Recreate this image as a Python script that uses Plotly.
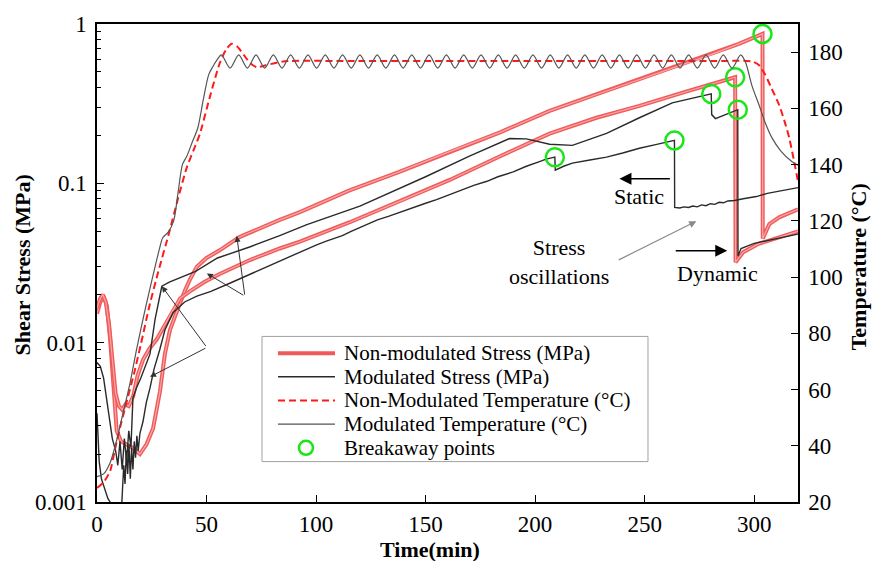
import math
import plotly.graph_objects as go

FONT = "Liberation Serif, Times New Roman, serif"

# ---------------- data ----------------
# Non-modulated temperature (°C) vs time (min)
nm_temp_t = [0, 3, 6, 8, 11, 14, 17, 20, 24, 28, 33, 37, 41, 44, 47, 51.5, 56, 59, 61.5, 64, 67, 70, 73,
             77, 85, 120, 200, 280, 299, 302, 305, 308, 311.5, 314, 316, 318, 320]
nm_temp = [25, 27, 31, 38, 48, 57, 66, 76, 90, 102, 116, 128, 139, 145, 151, 164, 176, 181, 183, 182, 179, 176, 174.6,
           175.3, 176.7, 176.8, 176.8, 176.8, 176.7, 175.5, 172, 167, 161, 155, 149.5, 142, 134]

# Modulated temperature (°C) vs time (min)
mod_temp_t = [0, 3, 6, 9, 12, 15, 18, 21, 23, 26, 28.5, 30, 32.5, 35, 37, 39, 41, 43.5, 46, 48.5, 51, 53, 55,
              56.8, 60.75, 64.7, 68.65, 72.6, 76.55, 80.5, 84.45, 88.4, 92.35, 96.3, 100.25, 104.2, 108.15,
              112.1, 116.05, 120.0, 123.95, 127.9, 131.85, 135.8, 139.75, 143.7, 147.65, 151.6, 155.55,
              159.5, 163.45, 167.4, 171.35, 175.3, 179.25, 183.2, 187.15, 191.1, 195.05, 199.0, 202.95,
              206.9, 210.85, 214.8, 218.75, 222.7, 226.65, 230.6, 234.55, 238.5, 242.45, 246.4, 250.35,
              254.3, 258.25, 262.2, 266.15, 270.1, 274.05, 278.0, 281.95, 285.9, 289.85, 293.8,
              296, 299, 302.3, 305, 308.2, 312, 317.3, 320]
mod_temp = [29, 30, 34, 42, 52, 62, 74, 85, 92, 102, 110, 114, 116, 120, 130, 140, 143, 148, 153, 163, 172, 175, 177.5,
            179.0, 174.3, 179.0, 174.3, 179.0, 174.3, 179.0, 174.3, 179.0, 174.3, 179.0, 174.3, 179.0, 174.3,
            179.0, 174.3, 179.0, 174.3, 179.0, 174.3, 179.0, 174.3, 179.0, 174.3, 179.0, 174.3,
            179.0, 174.3, 179.0, 174.3, 179.0, 174.3, 179.0, 174.3, 179.0, 174.3, 179.0, 174.3,
            179.0, 174.3, 179.0, 174.3, 179.0, 174.3, 179.0, 174.3, 179.0, 174.3, 179.0, 174.3,
            179.0, 174.3, 179.0, 174.3, 179.0, 174.3, 179.0, 174.3, 179.0, 174.3, 179.0,
            176.5, 168, 161, 155, 149.4, 145, 141, 139.8]

# Non-modulated stress, test A (MPa)
nm_stress_a_t = [0, 1.5, 3, 4.5, 6, 7.5, 9, 11, 13.5, 16, 19.6, 22.6, 25.6, 28.7, 31, 33.3, 35.5, 37.8, 40, 42.5,
                 45.6, 50, 56, 65, 75, 83.4, 92.6, 115, 138, 161, 184, 206.6, 232.6, 262.6, 280, 293, 303.8,
                 303.9, 306.9, 311.4, 320]
nm_stress_a = [0.0152, 0.018, 0.0195, 0.017, 0.0105, 0.0055, 0.0028, 0.0024, 0.0023, 0.0022, 0.0020, 0.0023, 0.0029,
               0.0049, 0.0085, 0.012, 0.0145, 0.0177, 0.021, 0.025, 0.030, 0.034, 0.038, 0.046, 0.053, 0.059, 0.066,
               0.090, 0.118, 0.158, 0.209, 0.285, 0.38, 0.53, 0.64, 0.75, 0.867, 0.045, 0.0555, 0.0612, 0.0687]

# Non-modulated stress, test B (MPa)
nm_stress_b_t = [0, 1.5, 2.7, 4, 5.5, 7, 8.5, 10, 11.5, 13, 14.5, 16.5, 18.5, 21, 24, 27.3, 31, 34.7, 38, 42.4, 49,
                 56, 69.8, 83.4, 92.6, 115.4, 140, 161, 185, 206.6, 228, 247.6, 270, 291.3, 291.5, 295, 302, 320]
nm_stress_b = [0.0165, 0.019, 0.020, 0.018, 0.013, 0.0075, 0.0048, 0.0040, 0.0038, 0.0041, 0.0040, 0.0046, 0.0062,
               0.0078, 0.0092, 0.0105, 0.013, 0.016, 0.019, 0.021, 0.024, 0.027, 0.033, 0.039, 0.043, 0.057, 0.079,
               0.105, 0.150, 0.205, 0.258, 0.306, 0.38, 0.463, 0.032, 0.037, 0.0417, 0.050]

# Modulated stress, test C (MPa)
m_stress_c_t = [0, 1.5, 3, 5, 7, 8.5, 9.5, 10.5, 11.5, 12.5, 13.5, 14.5, 15.5, 16.4, 18, 20, 22, 24.2, 26.5, 29.6,
                33, 38, 45, 55, 70, 83.4, 95.8, 120, 150, 170, 188.3, 196, 206.6, 217, 232.6, 247.6, 262.6, 280.4,
                280.6, 282.3, 292.5, 292.6, 294, 300, 310, 320]
m_stress_c = [0.0075, 0.0071, 0.0060, 0.0038, 0.0025, 0.0021, 0.0017, 0.0024, 0.0016, 0.0025, 0.0018, 0.0028, 0.0022,
              0.0045, 0.0052, 0.0060, 0.0070, 0.0085, 0.014, 0.0226, 0.024, 0.0255, 0.028, 0.034, 0.040, 0.047,
              0.055, 0.072, 0.110, 0.148, 0.191, 0.19, 0.176, 0.173, 0.206, 0.258, 0.32, 0.364, 0.27, 0.255, 0.29,
              0.035, 0.039, 0.042, 0.045, 0.048]

# Modulated stress, test D (MPa)
m_stress_d_t = [0, 1, 2, 3.5, 5, 6, 7, 11, 11.6, 12.2, 12.8, 13.4, 14, 14.6, 15.2, 15.8, 16.4, 17, 17.6, 18.2, 18.8,
                19.6, 21, 22.5, 24.2, 26, 28.7, 31, 34.7, 40, 45.6, 52, 60.6, 70, 83.4, 92.6, 100, 105, 108, 112, 116,
                120, 123, 128, 133, 137, 140, 145, 150, 155, 161, 166, 172, 178, 183, 190, 196, 202, 205, 209,
                209.2, 213, 217, 225, 232.6, 240, 247.6, 255, 263.6, 263.7, 266, 268, 270, 272, 274, 276, 278, 280,
                282, 284, 286, 288, 291, 295, 301, 306, 312, 320]
m_stress_d = [0.0036, 0.0018, 0.0014, 0.0012, 0.00105, 0.001, 0.0008, 0.0008, 0.0013, 0.0017, 0.0013, 0.0021, 0.0015,
              0.0023, 0.0014, 0.0022, 0.0016, 0.0024, 0.0019, 0.0026, 0.0021, 0.0027, 0.0032, 0.0042, 0.0052, 0.0068,
              0.0091, 0.012, 0.0154, 0.018, 0.0196, 0.021, 0.0236, 0.027, 0.0327, 0.037, 0.041, 0.0435, 0.045,
              0.047, 0.050, 0.053, 0.0554, 0.059, 0.062, 0.065, 0.067, 0.071, 0.075, 0.079, 0.085, 0.090, 0.097,
              0.103, 0.110, 0.118, 0.128, 0.137, 0.142, 0.146, 0.121, 0.128, 0.134, 0.140, 0.146, 0.155, 0.166,
              0.175, 0.186, 0.0706, 0.0700, 0.0712, 0.0705, 0.0720, 0.0712, 0.0732, 0.0724, 0.0745, 0.0738,
              0.0760, 0.0755, 0.0775, 0.0780, 0.080, 0.0826, 0.0865, 0.090, 0.094]

# Breakaway points
break_t = [209, 263.6, 280.4, 291.3, 292.5, 303.8]
break_stress = [0.146, 0.186, 0.364, 0.463, 0.290, 0.867]

x_ticks = [0, 50, 100, 150, 200, 250, 300]
y_ticks = [0.001, 0.01, 0.1, 1]
y_ticktext = ["0.001", "0.01", "0.1", "1"]
y2_ticks = [20, 40, 60, 80, 100, 120, 140, 160, 180]

legend_labels = ["Non-modulated Stress (MPa)", "Modulated Stress (MPa)", "Non-Modulated Temperature (°C)",
                 "Modulated Temperature (°C)", "Breakaway points"]

RED = "#f15a5a"
RED_CORE = "#f9a8a8"
BLACK = "#2a2a2a"
DASH_RED = "#ff1a1a"
GREEN = "#19e619"

fig = go.Figure()

# Stress traces (left log axis)
for tx, ty in ((nm_stress_a_t, nm_stress_a), (nm_stress_b_t, nm_stress_b)):
    fig.add_trace(go.Scatter(x=tx, y=ty, mode="lines", name=legend_labels[0], showlegend=False,
                             line=dict(color=RED, width=4)))
    fig.add_trace(go.Scatter(x=tx, y=ty, mode="lines", name=legend_labels[0], showlegend=False,
                             hoverinfo="skip", line=dict(color=RED_CORE, width=1.2)))
for tx, ty in ((m_stress_c_t, m_stress_c), (m_stress_d_t, m_stress_d)):
    fig.add_trace(go.Scatter(x=tx, y=ty, mode="lines", name=legend_labels[1], showlegend=False,
                             line=dict(color=BLACK, width=1.4)))
fig.add_trace(go.Scatter(x=break_t, y=break_stress, mode="markers", name=legend_labels[4], showlegend=False,
                         marker=dict(symbol="circle-open", size=18, color=GREEN, line=dict(width=2.5))))

# Temperature traces (right axis)
fig.add_trace(go.Scatter(x=nm_temp_t, y=nm_temp, yaxis="y2", mode="lines", name=legend_labels[2], showlegend=False,
                         line=dict(color=DASH_RED, width=2, dash="7px,4px", shape="spline", smoothing=0.6)))
fig.add_trace(go.Scatter(x=mod_temp_t, y=mod_temp, yaxis="y2", mode="lines", name=legend_labels[3],
                         showlegend=False,
                         line=dict(color="#555555", width=1.2, shape="spline", smoothing=0.8)))

L = math.log10
annotations = []
shapes = []


def arrow(x_head, y_head, x_tail, y_tail, color="#333333", width=1, head=2, size=1.2):
    annotations.append(dict(x=x_head, y=L(y_head), ax=x_tail, ay=L(y_tail), xref="x", yref="y",
                            axref="x", ayref="y", text="", showarrow=True, arrowhead=head,
                            arrowsize=size, arrowwidth=width, arrowcolor=color))


def seg(x0, y0, x1, y1, color="#333333", width=1, dash="solid"):
    shapes.append(dict(type="line", xref="x", yref="y", x0=x0, y0=L(y0), x1=x1, y1=L(y1),
                       line=dict(color=color, width=width, dash=dash)))


# callouts: modulated stress
arrow(29.6, 0.0226, 50.15, 0.00933)
arrow(24.2, 0.0061, 50.15, 0.00933)
seg(50.15, 0.00933, 79.8, 0.00635)
# callouts: non-modulated stress
arrow(63.8, 0.0468, 67.5, 0.0196)
arrow(50.15, 0.0272, 67.5, 0.0196)
seg(67.5, 0.0196, 79.8, 0.00895)

# Static / Dynamic arrows
arrow(238.5, 0.1068, 262.2, 0.1068, color="black", width=1.5, head=2, size=1.6)
arrow(287.7, 0.0378, 263.5, 0.0378, color="black", width=1.5, head=2, size=1.6)
# grey arrow to oscillations
arrow(273.6, 10 ** -1.238, 237.5, 10 ** -1.485, color="#8a8a8a", width=1.2, head=2, size=1.2)

# dotted vertical line and blue ellipse
seg(263.6, 10 ** -1.795, 263.6, 10 ** -1.163, color="black", width=1, dash="dot")
shapes.append(dict(type="circle", xref="x", yref="y", x0=260.3, x1=303.2, y0=-1.213, y1=-0.978,
                   line=dict(color="#8c8cf0", width=1.3)))

txt = dict(family=FONT, size=22, color="black")
annotations += [
    dict(x=247.6, y=L(0.0830), xref="x", yref="y", text="Static", showarrow=False, font=txt),
    dict(x=283.1, y=L(0.0272), xref="x", yref="y", text="Dynamic", showarrow=False, font=txt),
    dict(x=211.1, y=L(0.0323), xref="x", yref="y", text="Stress<br>oscillations", showarrow=False, font=txt),
]

title_font = dict(family=FONT, size=22, color="black")
annotations += [
    dict(x=0.475, y=-0.099, xref="paper", yref="paper", text="<b>Time(min)</b>", showarrow=False,
         font=title_font, xanchor="center", yanchor="middle"),
    dict(x=-0.107, y=0.497, xref="paper", yref="paper", text="<b>Shear Stress (MPa)</b>", showarrow=False,
         font=title_font, textangle=-90, xanchor="center", yanchor="middle"),
    dict(x=1.0856, y=0.491, xref="paper", yref="paper", text="<b>Temperature (°C)</b>", showarrow=False,
         font=title_font, textangle=-90, xanchor="center", yanchor="middle"),
]

# ---- legend box drawn in paper coordinates ----
lx0, lx1, ly0, ly1 = 0.2354, 0.786, 0.0845, 0.3464
shapes.append(dict(type="rect", xref="paper", yref="paper", x0=lx0, x1=lx1, y0=ly0, y1=ly1,
                   fillcolor="white", line=dict(color="#a0a0a0", width=1), layer="above"))
rows = [0.3113, 0.2619, 0.2124, 0.1629, 0.1134]
sx0, sx1 = 0.2582, 0.3395
samples = [dict(color=RED, width=4, dash="solid"), dict(color=BLACK, width=1.4, dash="solid"),
           dict(color=DASH_RED, width=2, dash="7px,4px"), dict(color="#555555", width=1.2, dash="solid")]
for ry, st in zip(rows[:4], samples):
    shapes.append(dict(type="line", xref="paper", yref="paper", x0=sx0, x1=sx1, y0=ry, y1=ry, line=st,
                       layer="above"))
shapes.append(dict(type="circle", xref="paper", yref="paper", xsizemode="pixel", ysizemode="pixel",
                   xanchor=0.2981, yanchor=rows[4], x0=-7, x1=7, y0=-7, y1=7,
                   line=dict(color=GREEN, width=2.5), layer="above"))
leg_font = dict(family=FONT, size=21, color="black")
for ry, lab in zip(rows, legend_labels):
    annotations.append(dict(x=0.3495, y=ry, xref="paper", yref="paper", text=lab, showarrow=False,
                            xanchor="left", yanchor="middle", font=leg_font))

tick_font = dict(family=FONT, size=23, color="black")
minor_vals = [m * 10 ** e for e in (-3, -2, -1) for m in range(2, 10)]

fig.update_layout(
    width=874, height=561,
    margin=dict(l=97, r=76, t=17, b=59),
    paper_bgcolor="white", plot_bgcolor="white",
    font=dict(family=FONT, color="black"),
    showlegend=False,
    xaxis=dict(range=[0, 320], tickvals=x_ticks, ticks="inside", ticklen=7, tickwidth=1.2, tickcolor="black",
               showline=True, linecolor="black", linewidth=1.5, mirror=True, showgrid=False, zeroline=False,
               tickfont=tick_font, ticklabelstandoff=1),
    yaxis=dict(type="log", range=[-3, 0], tickvals=y_ticks, ticktext=y_ticktext, ticks="inside", ticklen=7,
               tickwidth=1.2, tickcolor="black", showline=True, linecolor="black", linewidth=1.5,
               showgrid=False, zeroline=False, tickfont=tick_font, ticklabelstandoff=4,
               minor=dict(tickmode="array", tickvals=minor_vals, ticks="inside", ticklen=4, tickcolor="black",
                          showgrid=False)),
    yaxis2=dict(range=[20, 190], tickvals=y2_ticks, overlaying="y", side="right", ticks="inside", ticklen=7,
                tickwidth=1.2, tickcolor="black", showline=True, linecolor="black", linewidth=1.5,
                showgrid=False, zeroline=False, tickfont=tick_font, ticklabelstandoff=4),
    annotations=annotations,
    shapes=shapes,
)

fig.write_html("out.html")
